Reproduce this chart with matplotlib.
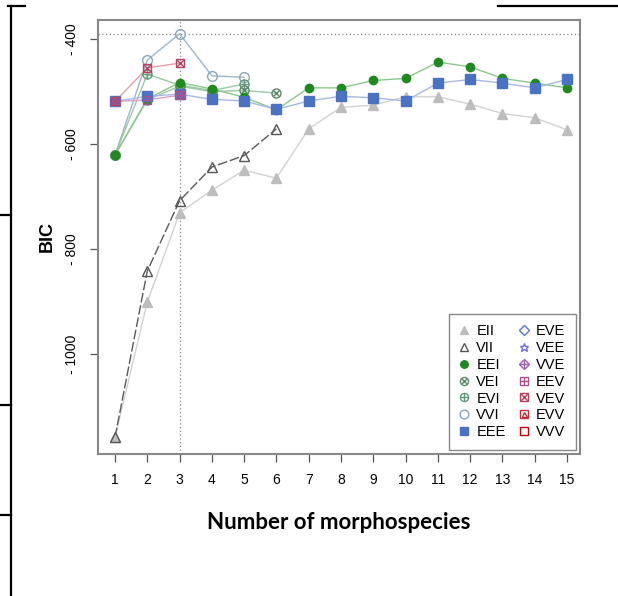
import matplotlib.pyplot as plt
from matplotlib.lines import Line2D
from matplotlib.legend_handler import HandlerTuple

plt.rcParams['font.family'] = ['Liberation Sans', 'DejaVu Sans']

k = list(range(1, 16))

# BIC values per covariance model (shorter lists = models not fitted past that k)
EII = [-1159, -901, -731, -688, -650, -665, -571, -530, -526, -510, -510, -524, -542, -550, -573]
VII = [-1159, -842, -708, -644, -622, -571]
EEI = [-621, -514, -483, -495, -511, -535, -493, -493, -479, -475, -444, -453, -475, -484, -493]
VEI = [-621, -516, -490, -500, -498, -503]
EVI = [-621, -467, -488, -498, -486]
VVI = [-621, -440, -390, -470, -473]
EEE = [-519, -509, -505, -515, -518, -534, -518, -509, -512, -518, -484, -477, -484, -493, -477]
EEV = [-519, -516, -507]
VEV = [-519, -455, -446]

best_k = 3
best_bic = -390

# marker styles: list of (marker, size, filled) layered on top of each other
STY = {
    'EII': ('#bdbdbd', [('^', 6.5, True)]),
    'VII': ('#555555', [('^', 7, False)]),
    'EEI': ('#1f8b1f', [('o', 6, True)]),
    'VEI': ('#5c8a66', [('o', 6.5, False), ('x', 4.5, False)]),
    'EVI': ('#5f9a7a', [('o', 6.5, False), ('+', 6.5, False)]),
    'VVI': ('#8aa6c0', [('o', 7, False)]),
    'EEE': ('#4a72c4', [('s', 6.5, True)]),
    'EVE': ('#5178ea', [('D', 5.5, False)]),
    'VEE': ('#716ee7', [('*', 7, False)]),
    'VVE': ('#9b60b8', [('D', 6, False), ('+', 6, False)]),
    'EEV': ('#b2508b', [('s', 6, False), ('+', 6, False)]),
    'VEV': ('#c03f60', [('s', 6, False), ('x', 6, False)]),
    'EVV': ('#c82a36', [('s', 6, False), ('^', 4, False)]),
    'VVV': ('#cc0000', [('s', 6, False)]),
}

fig = plt.figure(figsize=(6.18, 5.96), dpi=100)
ax = fig.add_axes([0.1586, 0.2383, 0.7799, 0.7281])


def draw(name, y, lc, ls='-'):
    color, layers = STY[name]
    xs = k[:len(y)]
    ax.plot(xs, y, color=lc, ls=ls, lw=1.0, zorder=2)
    for m, s, filled in layers:
        ax.plot(xs, y, ls='none', marker=m, ms=s, color=color,
                mfc=color if filled else 'none', mew=1.0, zorder=3)


def handle(name):
    color, layers = STY[name]
    return tuple(Line2D([], [], ls='none', marker=m, ms=s * 0.9, color=color,
                        mfc=color if filled else 'none', mew=1.0)
                 for m, s, filled in layers)


ax.axhline(best_bic, color='#888888', ls=(0, (1, 2)), lw=0.9, zorder=1)
ax.axvline(best_k, color='#888888', ls=(0, (1, 2)), lw=0.9, zorder=1)

draw('EII', EII, '#d3d3d3')
draw('VII', VII, '#5a5a5a', ls=(0, (7, 2)))
draw('VVI', VVI, '#9fb6cc')
draw('EVI', EVI, '#9cc8a6')
draw('VEI', VEI, '#9cc8a6')
draw('EEI', EEI, '#8cc88c')
draw('EEE', EEE, '#a6b9e6')
draw('EEV', EEV, '#dba0bf')
draw('VEV', VEV, '#e6a0b0')

ax.set_xlim(0.474, 15.4)
ax.set_ylim(-1190.5, -363.8)
ax.set_xticks(k)
ax.set_yticks([-400, -600, -800, -1000])
ax.set_yticklabels(['- 400', '- 600', '- 800', '- 1000'], rotation=90, va='center')
ax.tick_params(axis='both', length=6, width=0.9, color='#555555', labelsize=10)
ax.tick_params(axis='x', pad=8)
ax.tick_params(axis='y', pad=8)
for s in ax.spines.values():
    s.set_color('#888888')
    s.set_linewidth(1.5)

ax.set_ylabel('BIC', fontsize=13, fontweight='bold', labelpad=6)
ax.set_xlabel('Number of morphospecies', family=['Lato', 'DejaVu Sans'],
              fontsize=16, fontweight='bold', labelpad=18)

names = ['EII', 'VII', 'EEI', 'VEI', 'EVI', 'VVI', 'EEE',
         'EVE', 'VEE', 'VVE', 'EEV', 'VEV', 'EVV', 'VVV']
ax.legend([handle(n) for n in names], names, ncol=2, loc='lower right',
          fontsize=10.5, frameon=True, fancybox=False, edgecolor='#888888',
          framealpha=1, handlelength=0.7, handletextpad=0.5, columnspacing=0.9,
          labelspacing=0.2, borderaxespad=0.3, borderpad=0.7,
          handler_map={tuple: HandlerTuple(ndivide=1, pad=0)})

# page border lines around the figure
for seg in [((11, 11), (6, 596)), ((8, 25), (6, 6)), ((498, 618), (6, 6)),
            ((0, 11), (215, 215)), ((0, 11), (405, 405)), ((0, 11), (515, 515))]:
    fig.add_artist(Line2D([seg[0][0] / 618, seg[0][1] / 618],
                          [1 - seg[1][0] / 596, 1 - seg[1][1] / 596],
                          color='black', lw=1.6))

fig.savefig('out.png', dpi=100)
